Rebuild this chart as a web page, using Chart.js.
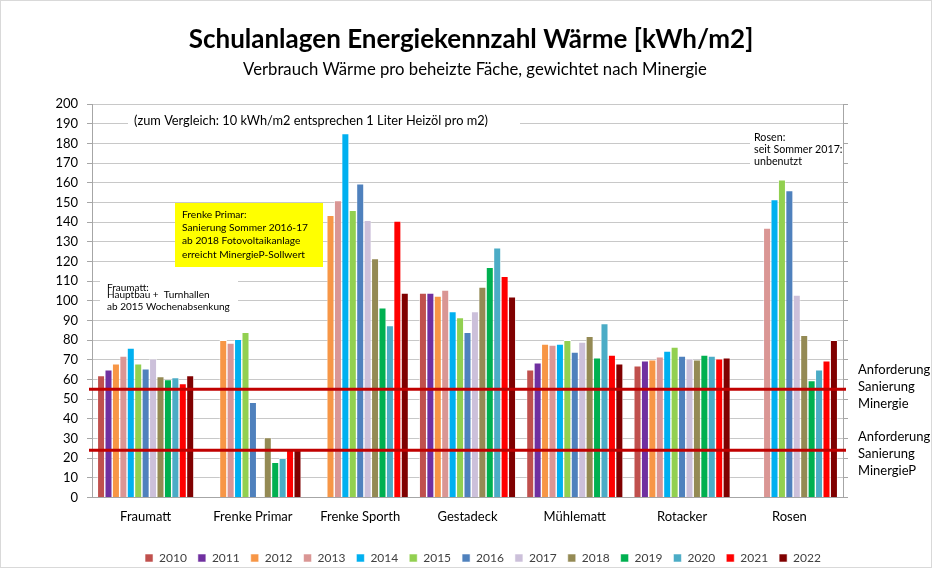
<!DOCTYPE html>
<html lang="de">
<head>
<meta charset="UTF-8">
<title>Schulanlagen Energiekennzahl Wärme</title>
<script src="https://cdn.jsdelivr.net/npm/chart.js"></script>
<style>
  body { margin: 0; background: #fff; }
  #wrap { width: 933px; height: 569px; position: relative; }
</style>
</head>
<body>
<div id="wrap"><canvas id="chart"></canvas></div>
<script>
// categories and years
const schools = ['Fraumatt', 'Frenke Primar', 'Frenke Sporth', 'Gestadeck', 'Mühlematt', 'Rotacker', 'Rosen'];
const years = ['2010', '2011', '2012', '2013', '2014', '2015', '2016', '2017', '2018', '2019', '2020', '2021', '2022'];

// kWh/m2 per school, one array per year (null = no value)
const v2010 = [62, null, null, 104, 65, 67, null];
const v2011 = [65, null, null, 104, 68.5, 69.5, null];
const v2012 = [68, 80, 143.5, 102.5, 78, 70, null];
const v2013 = [72, 78.5, 151, 105.5, 77.5, 71.5, 137];
const v2014 = [76, 80.5, 185, 94.5, 78, 74.5, 151.5];
const v2015 = [68, 84, 146, 91.5, 80, 76.5, 161.5];
const v2016 = [65.5, 48.5, 159.5, 84, 74, 72, 156];
const v2017 = [70.5, null, 141, 94.5, 79, 70.5, 103];
const v2018 = [61.5, 30.5, 121.5, 107, 82, 70, 82.5];
const v2019 = [60, 18, 96.5, 117, 71, 72.5, 59.5];
const v2020 = [61, 20, 87.5, 127, 88.5, 72, 65];
const v2021 = [58, 24.5, 140.5, 112.5, 72.5, 70.5, 69.5];
const v2022 = [62, 24.5, 104, 102, 68, 71, 80];

const yearColors = ['#C0504D', '#7030A0', '#F79646', '#DA9694', '#00B0F0', '#92D050', '#4F81BD',
                    '#CCC0DA', '#948A54', '#00B050', '#4BACC6', '#FF0000', '#800000'];

// requirement lines
const minergie = 55;
const minergieP = 24;

const FONT = 'Lato, "Noto Sans", sans-serif';
const series = [v2010, v2011, v2012, v2013, v2014, v2015, v2016, v2017, v2018, v2019, v2020, v2021, v2022];

const datasets = years.map((y, i) => ({
    label: y,
    data: series[i],
    backgroundColor: yearColors[i],
    borderColor: '#FFFFFF',
    borderWidth: { top: 0.8, left: 0.7, right: 0.7, bottom: 0 },
    borderSkipped: 'bottom'
}));

function box(ctx, x, y, w, h, color) {
    ctx.fillStyle = color;
    ctx.fillRect(x, y, w, h);
}

function lines(ctx, arr, x, y, lh) {
    arr.forEach((t, i) => ctx.fillText(t, x, y + i * lh));
}

const extras = {
    id: 'extras',
    afterLayout(chart) {
        // move the legend row under the plot like the original
        const lg = chart.legend;
        lg.left += 59; lg.right += 59;
        lg.top += 7; lg.bottom += 7;
    },
    beforeDatasetsDraw(chart) {
        const ctx = chart.ctx;
        ctx.save();
        ctx.textBaseline = 'middle';
        ctx.textAlign = 'left';

        // comparison note
        box(ctx, 128, 112, 392, 18, '#fff');
        ctx.fillStyle = '#000';
        ctx.font = '12.8px ' + FONT;
        ctx.fillText('(zum Vergleich: 10 kWh/m2 entsprechen 1 Liter Heizöl pro m2)', 134, 121);

        // yellow Frenke note
        box(ctx, 175, 203, 148, 64, '#FFFF00');
        ctx.fillStyle = '#000';
        ctx.font = '10.2px ' + FONT;
        lines(ctx, ['Frenke Primar:', 'Sanierung Sommer 2016-17', 'ab 2018 Fotovoltaikanlage', 'erreicht MinergieP-Sollwert'], 182, 215, 13.1);

        // Fraumatt note
        box(ctx, 100, 276, 138, 40, '#fff');
        ctx.fillStyle = '#000';
        ctx.font = '10px ' + FONT;
        ctx.fillText('Fraumatt:', 107, 288);
        ctx.fillText('Hauptbau +  Turnhallen', 107, 295);
        ctx.fillText('ab 2015 Wochenabsenkung', 107, 307);

        // Rosen note
        box(ctx, 750, 130, 93, 40, '#fff');
        ctx.fillStyle = '#000';
        ctx.font = '10.7px ' + FONT;
        lines(ctx, ['Rosen:', 'seit Sommer 2017:', 'unbenutzt'], 754, 138, 12);
        ctx.restore();
    },
    afterDatasetsDraw(chart) {
        const ctx = chart.ctx;
        const a = chart.chartArea;
        const ys = chart.scales.y;
        ctx.save();
        ctx.strokeStyle = '#C00000';
        ctx.lineWidth = 3;
        [minergie, minergieP].forEach(v => {
            const py = ys.getPixelForValue(v);
            ctx.beginPath();
            ctx.moveTo(a.left - 3, py);
            ctx.lineTo(a.right + 3, py);
            ctx.stroke();
        });
        ctx.fillStyle = '#000';
        ctx.font = '13px ' + FONT;
        ctx.textBaseline = 'middle';
        ctx.textAlign = 'left';
        lines(ctx, ['Anforderung', 'Sanierung', 'Minergie'], 858, 370, 17);
        lines(ctx, ['Anforderung', 'Sanierung', 'MinergieP'], 858, 437, 17);

        // titles
        ctx.textAlign = 'center';
        ctx.font = 'bold 26px ' + FONT;
        ctx.fillText('Schulanlagen Energiekennzahl Wärme [kWh/m2]', 471, 40);
        ctx.font = '16.7px ' + FONT;
        ctx.fillText('Verbrauch Wärme pro beheizte Fäche, gewichtet nach Minergie', 475, 70);

        // chart frame
        ctx.strokeStyle = '#D9D9D9';
        ctx.lineWidth = 1;
        ctx.strokeRect(0.5, 0.5, chart.width - 2, chart.height - 2);
        ctx.restore();
    }
};

new Chart(document.getElementById('chart'), {
    type: 'bar',
    data: { labels: schools, datasets: datasets },
    options: {
        responsive: true,
        maintainAspectRatio: false,
        animation: false,
        layout: { padding: { top: 104, left: 0, right: 85, bottom: 2 } },
        datasets: { bar: { categoryPercentage: 0.9, barPercentage: 1.0 } },
        plugins: {
            title: { display: false },
            tooltip: { enabled: false },
            legend: {
                position: 'bottom',
                labels: {
                    boxWidth: 8,
                    boxHeight: 8,
                    padding: 11,
                    color: '#404040',
                    font: { family: FONT, size: 12 }
                }
            }
        },
        scales: {
            x: {
                grid: { display: false, drawTicks: false },
                border: { color: '#A6A6A6' },
                ticks: { color: '#000', padding: 12, font: { family: FONT, size: 13 } },
                afterFit(s) { s.height = 36.5; }
            },
            y: {
                min: 0,
                max: 200,
                ticks: { stepSize: 10, color: '#000', padding: 9, font: { family: FONT, size: 13 } },
                grid: { color: '#C8C8C8', tickLength: 5, tickColor: '#A6A6A6' },
                border: { color: '#A6A6A6' },
                afterFit(s) { s.width = 92; }
            },
            y2: {
                position: 'right',
                min: 0,
                max: 200,
                ticks: { stepSize: 10, display: false },
                grid: { drawOnChartArea: false, tickLength: 5, color: '#A6A6A6' },
                border: { color: '#A6A6A6' },
                afterFit(s) { s.width = 5; }
            }
        }
    },
    plugins: [extras]
});
</script>
</body>
</html>
